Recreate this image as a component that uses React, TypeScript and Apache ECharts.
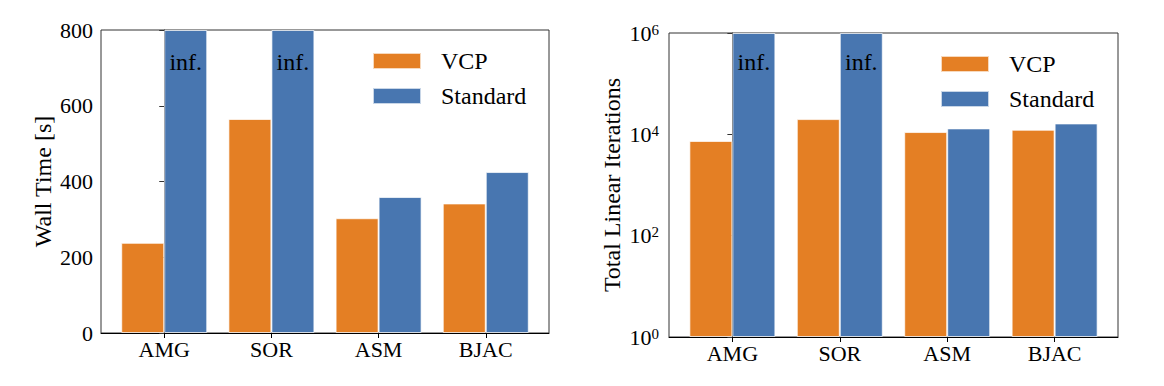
import React, { useEffect, useRef } from "react";
import * as echarts from "echarts";

// ---- data ----
const categories = ["AMG", "SOR", "ASM", "BJAC"];
const seriesNames = ["VCP", "Standard"];
// Wall time [s]
const vcpWallTime = [238, 565, 303, 342];
// AMG and SOR with the standard method never finished (inf.) -> drawn to the axis top
const standardWallTime = [800, 800, 359, 425];
// Total linear iterations
const vcpIterations = [7400, 20000, 11100, 12300];
const standardIterations = [1e6, 1e6, 13100, 16400];
const standardInfinite = [true, true, false, false];
const wallTicks = [0, 200, 400, 600, 800];
const iterTicks = [1, 1e2, 1e4, 1e6];
const catPositions = [0, 1, 2, 3];

const ORANGE = "#E47F24";
const BLUE = "#4876B0";
const FONT = "Liberation Serif";

function xAxisFor(gridIndex: number) {
  return {
    type: "value",
    gridIndex,
    min: -0.59,
    max: 3.59,
    splitLine: { show: false },
    axisLine: { show: true, lineStyle: { color: "#000", width: 1 } },
    axisTick: { show: true, length: 5, customValues: catPositions, lineStyle: { color: "#000" } },
    axisLabel: {
      show: true,
      customValues: catPositions,
      margin: 5,
      color: "#000",
      fontFamily: FONT,
      fontSize: 22,
      formatter: (v: number) => categories[Math.round(v)] ?? "",
    },
  };
}

function makeBar(name: string, color: string, xi: number, yi: number, values: number[], infFlags: boolean[] | null, labelDist: number) {
  return {
    type: "bar",
    name,
    xAxisIndex: xi,
    yAxisIndex: yi,
    barWidth: 43,
    barGap: "0%",
    clip: true,
    itemStyle: { color, borderColor: "rgba(255,255,255,0.7)", borderWidth: 1 },
    data: values.map((v, i) => {
      const item: any = { value: [i, v] };
      if (infFlags && infFlags[i]) {
        item.label = {
          show: true,
          position: "insideTop",
          distance: labelDist,
          formatter: "inf.",
          color: "#000",
          fontFamily: FONT,
          fontSize: 24,
        };
      }
      return item;
    }),
  };
}

function legendAt(left: number, top: number) {
  return {
    orient: "vertical",
    left,
    top,
    padding: 0,
    itemWidth: 48,
    itemHeight: 16,
    itemGap: 11,
    icon: "rect",
    data: seriesNames,
    selectedMode: false,
    textStyle: { color: "#000", fontFamily: FONT, fontSize: 24, lineHeight: 24, padding: [0, 0, 0, 15] },
  };
}

export default function App() {
  const ref = useRef<HTMLDivElement>(null);
  useEffect(() => {
    if (!ref.current) return;
    const chart = echarts.init(ref.current, null, { renderer: "svg" });
    chart.setOption({
      animation: false,
      backgroundColor: "#fff",
      textStyle: { fontFamily: FONT },
      grid: [
        { left: 101, top: 30, width: 448, height: 303, show: true, borderColor: "#333", borderWidth: 1, backgroundColor: "transparent" },
        { left: 669, top: 33, width: 449, height: 304, show: true, borderColor: "#333", borderWidth: 1, backgroundColor: "transparent" },
      ],
      legend: [legendAt(372, 49), legendAt(940, 52)],
      xAxis: [xAxisFor(0), xAxisFor(1)],
      yAxis: [
        {
          type: "value",
          gridIndex: 0,
          min: 0,
          max: 800,
          interval: 200,
          name: "Wall Time [s]",
          nameLocation: "middle",
          nameGap: 46,
          nameTextStyle: { color: "#000", fontFamily: FONT, fontSize: 24 },
          splitLine: { show: false },
          axisLine: { show: true, lineStyle: { color: "#333" } },
          axisTick: { show: true, length: 5, lineStyle: { color: "#333" } },
          axisLabel: { color: "#000", fontFamily: FONT, fontSize: 22, margin: 8, customValues: wallTicks },
        },
        {
          type: "log",
          gridIndex: 1,
          logBase: 10,
          min: 1,
          max: 1e6,
          name: "Total Linear Iterations",
          nameLocation: "middle",
          nameGap: 45,
          nameTextStyle: { color: "#000", fontFamily: FONT, fontSize: 24 },
          splitLine: { show: false },
          minorTick: { show: false },
          axisLine: { show: true, lineStyle: { color: "#333" } },
          axisTick: { show: true, length: 5, customValues: iterTicks, lineStyle: { color: "#333" } },
          axisLabel: {
            color: "#000",
            fontFamily: FONT,
            margin: 10,
            customValues: iterTicks,
            formatter: (v: number) => `{b|10}{s|${Math.round(Math.log10(v))}}`,
            rich: {
              b: { fontSize: 22, lineHeight: 22, fontFamily: FONT, color: "#000" },
              s: { fontSize: 15, lineHeight: 15, verticalAlign: "top", fontFamily: FONT, color: "#000" },
            },
          },
        },
      ],
      series: [
        makeBar("VCP", ORANGE, 0, 0, vcpWallTime, null, 0),
        makeBar("Standard", BLUE, 0, 0, standardWallTime, standardInfinite, 20),
        makeBar("VCP", ORANGE, 1, 1, vcpIterations, null, 0),
        makeBar("Standard", BLUE, 1, 1, standardIterations, standardInfinite, 17),
      ],
    });
    return () => chart.dispose();
  }, []);
  return (
    <div
      ref={ref}
      style={{ position: "absolute", left: 0, top: 0, width: 1164, height: 386, background: "#fff" }}
    />
  );
}
